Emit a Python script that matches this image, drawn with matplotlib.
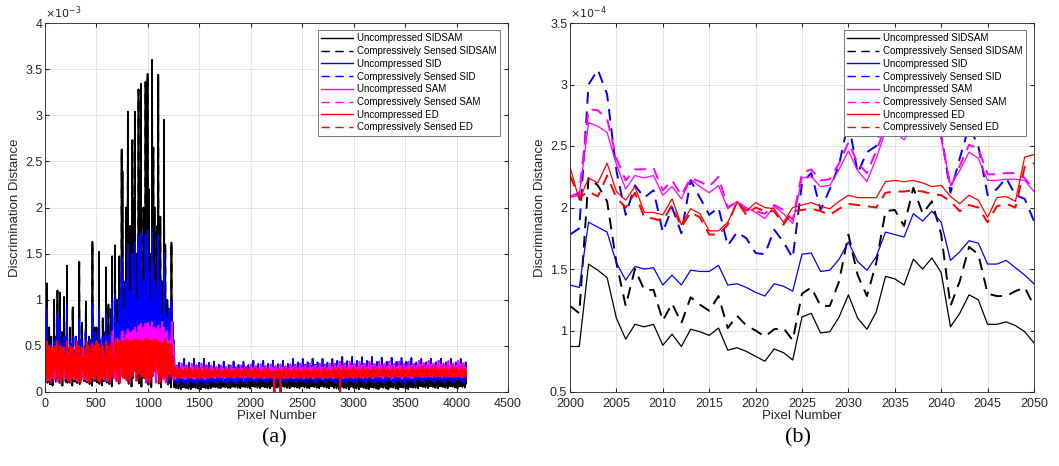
import numpy as np
import matplotlib
matplotlib.use('Agg')
import matplotlib.pyplot as plt
from matplotlib.ticker import FormatStrFormatter

# ---------- panel (b): pixels 2000..2050, values in 1e-4 ----------
pix_b = np.arange(2000, 2051)
u_sidsam = [0.87, 0.87, 1.54, 1.49, 1.43, 1.10, 0.93, 1.05, 1.03, 1.05, 0.88, 0.97, 0.87,
            1.01, 0.99, 0.96, 1.02, 0.84, 0.86, 0.83, 0.79, 0.75, 0.85, 0.82, 0.76, 1.11,
            1.14, 0.98, 0.99, 1.11, 1.29, 1.10, 1.01, 1.15, 1.44, 1.42, 1.37, 1.58, 1.50,
            1.59, 1.47, 1.03, 1.14, 1.29, 1.25, 1.05, 1.05, 1.07, 1.04, 0.99, 0.90]
cs_sidsam = [1.20, 1.14, 2.24, 2.18, 2.05, 1.55, 1.20, 1.50, 1.33, 1.33, 1.08, 1.22, 1.06,
             1.27, 1.21, 1.16, 1.28, 1.02, 1.12, 1.04, 1.00, 0.95, 1.01, 1.02, 0.92, 1.30,
             1.35, 1.20, 1.20, 1.40, 1.78, 1.45, 1.28, 1.55, 1.97, 1.98, 1.85, 2.16, 1.95,
             2.05, 1.78, 1.20, 1.40, 1.68, 1.62, 1.30, 1.28, 1.28, 1.32, 1.35, 1.20]
u_sid = [1.37, 1.35, 1.88, 1.84, 1.80, 1.55, 1.41, 1.52, 1.50, 1.51, 1.37, 1.45, 1.37,
         1.49, 1.48, 1.48, 1.53, 1.37, 1.38, 1.35, 1.31, 1.28, 1.38, 1.36, 1.32, 1.62,
         1.63, 1.48, 1.49, 1.58, 1.72, 1.56, 1.49, 1.60, 1.80, 1.78, 1.76, 1.95, 1.89,
         1.97, 1.88, 1.57, 1.64, 1.73, 1.71, 1.54, 1.54, 1.57, 1.51, 1.45, 1.38]
cs_sid = [1.78, 1.83, 3.00, 3.12, 2.92, 2.30, 1.94, 2.18, 2.08, 2.14, 1.80, 2.00, 1.79,
          2.22, 2.08, 1.94, 2.00, 1.69, 1.80, 1.75, 1.63, 1.62, 1.82, 1.72, 1.59, 2.20,
          2.28, 1.98, 2.15, 2.35, 2.70, 2.28, 2.45, 2.50, 2.78, 2.80, 2.72, 2.90, 2.80,
          2.75, 2.60, 2.12, 2.40, 2.66, 2.50, 2.10, 2.15, 2.24, 2.10, 2.07, 1.89]
u_sam = [2.08, 2.10, 2.69, 2.66, 2.61, 2.35, 2.15, 2.26, 2.24, 2.26, 2.10, 2.17, 2.07,
         2.23, 2.17, 2.12, 2.18, 1.99, 2.05, 2.00, 1.96, 1.91, 2.01, 1.95, 1.87, 2.24,
         2.25, 2.17, 2.18, 2.31, 2.46, 2.30, 2.21, 2.40, 2.62, 2.62, 2.55, 2.68, 2.65,
         2.70, 2.56, 2.18, 2.30, 2.45, 2.40, 2.22, 2.22, 2.23, 2.23, 2.22, 2.13]
cs_sam = [2.09, 2.12, 2.80, 2.79, 2.72, 2.40, 2.22, 2.31, 2.31, 2.32, 2.14, 2.22, 2.10,
          2.24, 2.21, 2.17, 2.25, 2.00, 2.05, 1.98, 1.97, 1.95, 2.02, 1.98, 1.90, 2.28,
          2.31, 2.22, 2.23, 2.36, 2.53, 2.36, 2.28, 2.46, 2.66, 2.65, 2.60, 2.72, 2.70,
          2.74, 2.58, 2.16, 2.34, 2.51, 2.48, 2.27, 2.27, 2.28, 2.28, 2.24, 2.14]
u_ed = [2.33, 2.06, 2.24, 2.20, 2.36, 2.13, 2.06, 2.17, 1.96, 1.96, 1.94, 2.07, 1.86,
        1.99, 1.95, 1.81, 1.81, 1.88, 2.04, 1.97, 2.04, 2.00, 1.99, 1.88, 2.00, 2.02,
        2.04, 2.01, 1.99, 2.05, 2.10, 2.08, 2.08, 2.08, 2.21, 2.22, 2.21, 2.22, 2.20,
        2.17, 2.18, 2.09, 2.03, 2.10, 2.06, 1.92, 2.08, 2.09, 2.05, 2.41, 2.43]
cs_ed = [2.26, 2.08, 2.13, 2.09, 2.26, 2.08, 2.00, 2.12, 1.92, 1.91, 1.89, 2.02, 1.84,
         1.96, 1.92, 1.78, 1.78, 1.86, 2.05, 1.94, 2.00, 1.97, 1.97, 1.86, 1.97, 1.98,
         1.99, 1.97, 1.94, 1.99, 2.03, 2.02, 2.01, 2.00, 2.12, 2.13, 2.13, 2.14, 2.13,
         2.11, 2.10, 2.05, 1.97, 2.02, 2.00, 1.88, 2.01, 2.03, 2.00, 2.33, 2.36]

# ---------- panel (a): whole line of 4096 pixels, values in 1e-3 ----------
n_pix = 4096
# band levels per stretch of pixels (low / high of the fast oscillation)
seg_edges = [0, 320, 640, 960, 1250, 1600, 2000, 2400, 2800, 3200, 3600, 4096]
sidsam_lo = [0.07, 0.07, 0.06, 0.05, 0.03, 0.04, 0.04, 0.04, 0.03, 0.03, 0.04]
sidsam_hi = [0.35, 0.40, 0.70, 0.90, 0.17, 0.16, 0.17, 0.18, 0.19, 0.19, 0.19]
sid_lo = [0.10, 0.10, 0.09, 0.08, 0.08, 0.09, 0.10, 0.10, 0.09, 0.09, 0.10]
sid_hi = [0.60, 0.65, 0.85, 1.05, 0.36, 0.33, 0.34, 0.36, 0.38, 0.37, 0.36]
sam_lo = [0.12, 0.12, 0.12, 0.10, 0.14, 0.15, 0.15, 0.15, 0.15, 0.15, 0.16]
sam_hi = [0.48, 0.48, 0.66, 0.76, 0.31, 0.29, 0.30, 0.31, 0.33, 0.33, 0.34]
ed_lo = [0.10, 0.10, 0.10, 0.10, 0.15, 0.16, 0.15, 0.15, 0.15, 0.16, 0.16]
ed_hi = [0.55, 0.55, 0.57, 0.58, 0.27, 0.26, 0.26, 0.26, 0.27, 0.27, 0.28]
# shape of one 96-pixel stretch (fraction of the band), 4-pixel steps
row_profile = [0.30, 0.55, 0.15, 0.60, 0.35, 0.70, 0.10, 0.50, 0.25, 1.00, 0.40, 0.65,
               0.05, 0.55, 0.30, 0.75, 0.20, 0.60, 0.00, 0.50, 0.35, 0.85, 0.15, 0.45]
# isolated spikes
spike_x = [16, 40, 60, 87, 100, 120, 146, 165, 185, 214, 240, 269, 300, 333, 360, 395,
           430, 460, 480, 502, 524, 560, 592, 615, 640, 654, 680, 700, 719, 745, 754,
           770, 790, 806, 830, 848, 860, 871, 890, 910, 920, 932, 955, 965, 978, 997,
           1010, 1025, 1039, 1052, 1065, 1080, 1090, 1101, 1120, 1135, 1156, 1170, 1190,
           1210, 1227]
sidsam_spike = [1.18, 0.70, 0.60, 1.00, 0.55, 1.10, 1.08, 0.65, 1.03, 1.37, 0.70, 0.92,
                0.60, 1.41, 0.75, 0.98, 0.60, 1.63, 0.70, 0.70, 1.52, 0.80, 1.35, 0.95,
                0.90, 1.47, 1.59, 1.00, 1.47, 2.63, 2.39, 1.20, 2.00, 3.04, 1.80, 2.73,
                2.10, 3.04, 1.50, 3.28, 2.40, 3.34, 2.00, 1.60, 3.36, 3.45, 2.20, 1.50,
                3.60, 2.65, 2.00, 1.30, 1.80, 3.44, 1.90, 1.20, 2.95, 1.60, 1.00, 0.80,
                1.62]
sid_spike = [0.90, 0.50, 0.45, 0.55, 0.45, 0.85, 0.80, 0.50, 0.60, 0.95, 0.55, 0.60,
             0.45, 0.80, 0.55, 0.65, 0.50, 0.95, 0.55, 0.55, 0.90, 0.60, 0.85, 0.60,
             0.65, 1.00, 1.05, 0.75, 1.00, 1.45, 1.30, 0.90, 1.20, 1.60, 1.10, 1.50,
             1.30, 1.62, 1.00, 1.70, 1.40, 1.72, 1.20, 1.00, 1.70, 1.75, 1.30, 1.00,
             1.76, 1.40, 1.20, 0.90, 1.10, 1.70, 1.20, 0.85, 1.50, 1.00, 0.75, 0.60,
             0.98]
sam_spike = [0.45, 0.40, 0.40, 0.40, 0.38, 0.45, 0.45, 0.40, 0.42, 0.48, 0.40, 0.40,
             0.38, 0.48, 0.42, 0.42, 0.40, 0.50, 0.42, 0.40, 0.50, 0.45, 0.48, 0.42,
             0.45, 0.50, 0.52, 0.50, 0.55, 0.62, 0.60, 0.58, 0.62, 0.68, 0.64, 0.66,
             0.66, 0.70, 0.64, 0.72, 0.70, 0.74, 0.70, 0.68, 0.74, 0.75, 0.72, 0.70,
             0.75, 0.68, 0.70, 0.66, 0.68, 0.72, 0.68, 0.64, 0.70, 0.64, 0.60, 0.55,
             0.58]
ed_spike = [0.50, 0.50, 0.48, 0.48, 0.50, 0.50, 0.50, 0.48, 0.48, 0.50, 0.50, 0.48,
            0.50, 0.50, 0.48, 0.48, 0.50, 0.52, 0.50, 0.48, 0.52, 0.50, 0.52, 0.50,
            0.52, 0.53, 0.53, 0.52, 0.54, 0.55, 0.54, 0.55, 0.55, 0.56, 0.55, 0.55,
            0.56, 0.56, 0.55, 0.56, 0.56, 0.56, 0.55, 0.55, 0.55, 0.56, 0.56, 0.55,
            0.56, 0.54, 0.55, 0.54, 0.54, 0.55, 0.54, 0.53, 0.54, 0.53, 0.52, 0.52,
            0.52]
# dropouts to zero
dip_x = [2230, 2290, 2870]

labels = ['Uncompressed SIDSAM', 'Compressively Sensed SIDSAM',
          'Uncompressed SID', 'Compressively Sensed SID',
          'Uncompressed SAM', 'Compressively Sensed SAM',
          'Uncompressed ED', 'Compressively Sensed ED']
colors = ['k', 'k', '#0000ff', '#0000ff', '#ff00ff', '#ff00ff', '#ff0000', '#ff0000']


def build_line(lo, hi, spikes, dips, shift):
    x = np.arange(0, n_pix, 4)
    y = np.zeros(len(x))
    prof = np.array(row_profile)[(np.arange(len(x)) + shift) % len(row_profile)]
    for i in range(len(seg_edges) - 1):
        m = (x >= seg_edges[i]) & (x < seg_edges[i + 1])
        y[m] = lo[i] + (hi[i] - lo[i]) * prof[m]
    for sx, sv in zip(spike_x, spikes):
        j = np.argmin(abs(x - sx))
        y[j] = max(y[j], sv)
    for dx in dips:
        y[np.argmin(abs(x - dx))] = 0.0
    return x + 1, y


pa_lines = [build_line(sidsam_lo, sidsam_hi, sidsam_spike, [], 0),
            build_line(sid_lo, sid_hi, sid_spike, dip_x, 7),
            build_line(sam_lo, sam_hi, sam_spike, [], 13),
            build_line(ed_lo, ed_hi, ed_spike, dip_x, 4)]
pb_lines = [u_sidsam, cs_sidsam, u_sid, cs_sid, u_sam, cs_sam, u_ed, cs_ed]

plt.rcParams['font.family'] = ['Liberation Sans', 'DejaVu Sans']
fig = plt.figure(figsize=(10.59, 4.66), dpi=100)
ax1 = fig.add_axes([45 / 1059, 74 / 466, 463 / 1059, 369 / 466])
ax2 = fig.add_axes([570 / 1059, 74 / 466, 464 / 1059, 369 / 466])

dash = (0, (6, 4))
for k in range(8):
    x, y = pa_lines[k // 2]
    ls = '-' if k % 2 == 0 else dash
    ax1.plot(x, y, color=colors[k], lw=1.2, ls=ls, label=labels[k])
    lw = 0.9 if k % 2 == 0 else 1.4
    ax2.plot(pix_b, pb_lines[k], color=colors[k], lw=lw, ls=ls, label=labels[k])


def style(ax, xlim, ylim, xt, yt, expo):
    ax.set_xlim(*xlim)
    ax.set_ylim(*ylim)
    ax.set_xticks(xt)
    ax.set_yticks(yt)
    ax.yaxis.set_major_formatter(FormatStrFormatter('%g'))
    ax.grid(True, color='#e3e3e3', lw=0.7)
    ax.set_axisbelow(True)
    ax.tick_params(direction='in', labelsize=9, colors='#262626', length=3,
                   top=True, right=True)
    ax.tick_params(axis='x', pad=4)
    ax.tick_params(axis='y', pad=2)
    for s in ax.spines.values():
        s.set_color('#262626')
        s.set_linewidth(0.6)
    ax.set_xlabel('Pixel Number', fontsize=9.5, color='#262626', labelpad=0)
    ax.set_ylabel('Discrimination Distance', fontsize=9.5, color='#262626', labelpad=3)
    ax.text(0, 1.005, r'$\times10^{%d}$' % expo, transform=ax.transAxes,
            fontsize=8, color='#262626', va='bottom', ha='left')
    leg = ax.legend(loc='upper right', fontsize=7, handlelength=3.3, labelspacing=0.28,
                    borderpad=0.35, handletextpad=0.4, fancybox=False, framealpha=1,
                    borderaxespad=0, bbox_to_anchor=(0.983, 0.981))
    leg.get_frame().set_edgecolor('#777777')
    leg.get_frame().set_linewidth(0.7)
    for h in leg.get_lines():
        h.set_linewidth(1.0)


style(ax1, (0, 4500), (0, 4), np.arange(0, 4501, 500), np.arange(0, 4.01, 0.5), -3)
style(ax2, (2000, 2050), (0.5, 3.5), np.arange(2000, 2051, 5), np.arange(0.5, 3.51, 0.5), -4)

fig.text(274 / 1059, 1 - 438 / 466, '(a)', fontsize=16, family='Liberation Serif',
         ha='center', va='center')
fig.text(798 / 1059, 1 - 438 / 466, '(b)', fontsize=16, family='Liberation Serif',
         ha='center', va='center')

fig.savefig('out.png', dpi=100)
